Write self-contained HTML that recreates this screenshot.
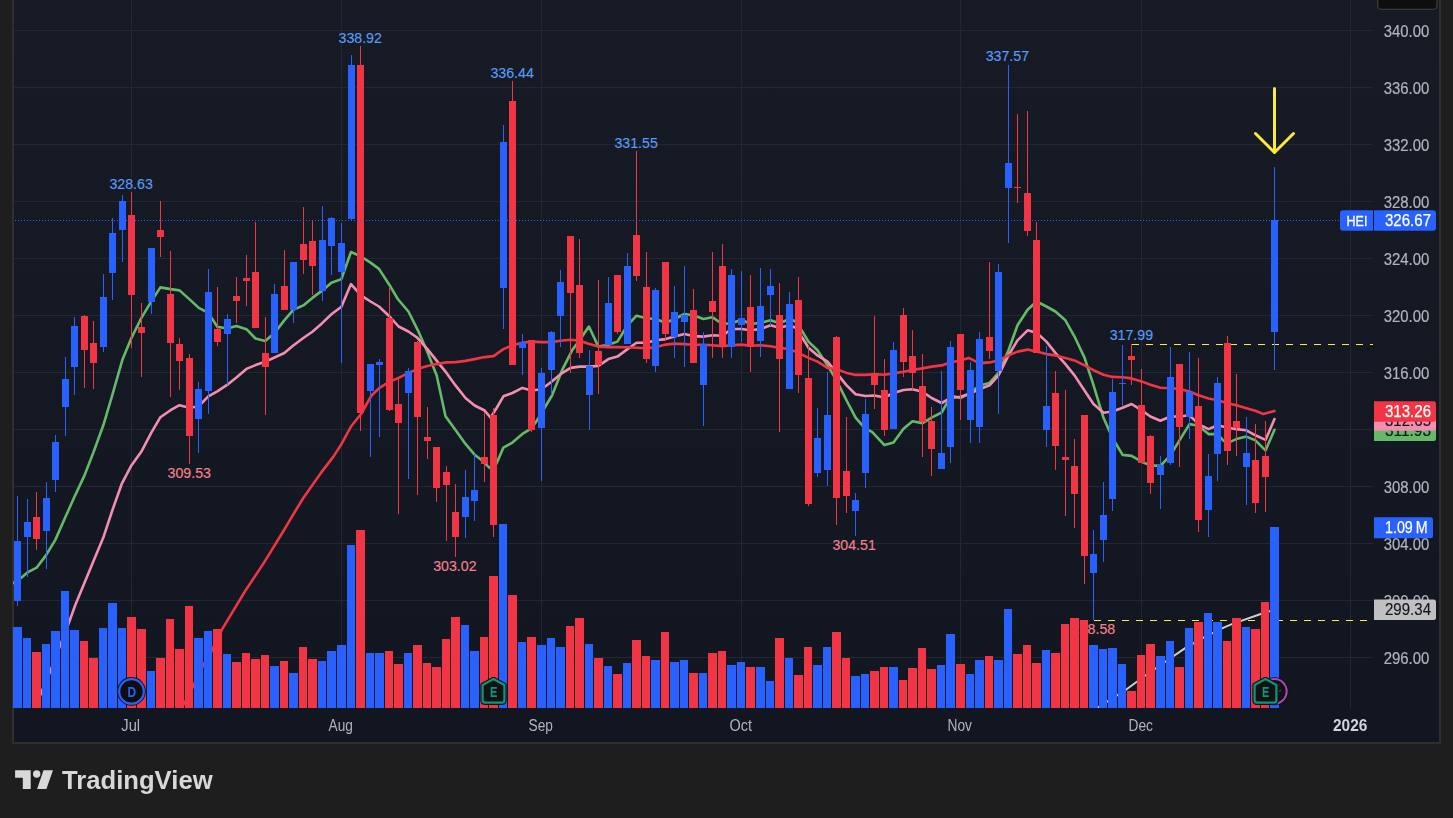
<!DOCTYPE html><html><head><meta charset="utf-8"><title>HEI chart</title><style>html,body{margin:0;padding:0;background:#1e1e1e;}body{width:1453px;height:818px;overflow:hidden;position:relative;font-family:"Liberation Sans",sans-serif;}</style></head><body><svg width="1453" height="818" viewBox="0 0 1453 818" style="position:absolute;left:0;top:0">
<rect x="0" y="0" width="1453" height="818" fill="#1e1e1e"/>
<g opacity="0.9999">
<defs><clipPath id="cp"><rect x="13" y="0" width="1360" height="708"/></clipPath><linearGradient id="bgg" gradientUnits="userSpaceOnUse" x1="0" y1="-30" x2="0" y2="742"><stop offset="0" stop-color="#181c27"/><stop offset="1" stop-color="#131722"/></linearGradient></defs>
<rect x="12" y="-5" width="1429" height="749" fill="#303030"/>
<rect x="14" y="-5" width="1425" height="747" fill="url(#bgg)"/>
<g fill="#242835" shape-rendering="crispEdges"><rect x="14" y="30" width="1359" height="1"/><rect x="14" y="87" width="1359" height="1"/><rect x="14" y="144" width="1359" height="1"/><rect x="14" y="201" width="1359" height="1"/><rect x="14" y="258" width="1359" height="1"/><rect x="14" y="315" width="1359" height="1"/><rect x="14" y="372" width="1359" height="1"/><rect x="14" y="429" width="1359" height="1"/><rect x="14" y="486" width="1359" height="1"/><rect x="14" y="543" width="1359" height="1"/><rect x="14" y="600" width="1359" height="1"/><rect x="14" y="657" width="1359" height="1"/><rect x="131" y="0" width="1" height="708"/><rect x="341" y="0" width="1" height="708"/><rect x="541" y="0" width="1" height="708"/><rect x="741" y="0" width="1" height="708"/><rect x="960" y="0" width="1" height="708"/><rect x="1141" y="0" width="1" height="708"/><rect x="1350" y="0" width="1" height="708"/></g>
<line x1="1131.5" y1="344.5" x2="1373" y2="344.5" stroke="#ffeb3b" stroke-width="1" stroke-dasharray="7 7" shape-rendering="crispEdges"/>
<line x1="1093.5" y1="620.5" x2="1373" y2="620.5" stroke="#ffeb3b" stroke-width="1" stroke-dasharray="7 7" shape-rendering="crispEdges"/>
<g clip-path="url(#cp)">
<polyline fill="none" stroke="#cfcfcf" stroke-width="2" stroke-linejoin="round" stroke-linecap="round" points="1097.7,707.6 1126.6,689.3 1145.4,675.5 1165.4,661.7 1185.5,647.9 1194.3,642.9 1203.0,637.9 1223.1,627.8 1231.9,624.1 1260.7,614.0 1274.5,609.8"/>
<polyline fill="none" stroke="#66bb6a" stroke-width="2.6" stroke-linejoin="round" stroke-linecap="round" points="13.0,583.2 21.3,577.7 27.1,572.7 36.6,567.7 46.1,555.1 55.2,540.1 65.2,517.5 74.5,496.7 84.5,475.4 93.3,452.8 103.3,425.3 112.3,395.2 122.3,360.1 131.4,338.0 141.4,317.9 151.2,301.6 160.4,287.4 170.5,289.1 179.5,290.4 189.3,299.1 198.8,307.9 208.3,312.9 217.3,326.7 227.4,328.5 236.4,326.0 246.4,329.2 255.5,338.5 265.2,341.0 274.5,333.0 284.3,320.4 293.3,309.9 303.3,305.4 312.4,297.9 322.4,290.4 331.4,282.8 341.4,279.1 351.0,252.0 361.0,256.5 370.5,262.6 379.0,268.9 389.6,285.2 397.8,299.0 408.4,311.5 417.9,330.3 426.7,350.3 436.7,375.4 445.5,416.3 455.5,430.1 465.5,443.9 474.6,454.7 481.8,460.2 489.3,467.7 493.6,469.0 496.9,462.7 503.4,447.6 512.4,442.6 522.4,433.9 531.5,428.3 537.0,420.5 552.0,395.5 562.0,370.4 572.1,350.3 579.6,340.3 588.9,326.5 598.4,346.6 608.4,344.8 617.4,341.6 627.5,325.3 636.5,315.7 646.5,318.3 655.6,319.0 665.6,322.8 674.6,319.0 684.4,314.0 693.4,315.2 703.4,319.0 712.5,317.3 722.5,324.0 731.5,323.3 741.5,319.8 750.6,324.0 760.6,322.8 770.6,320.3 779.4,323.3 789.4,319.0 795.7,321.5 803.2,332.8 808.5,341.6 817.5,350.3 827.5,365.4 836.5,380.4 846.6,400.5 855.6,417.6 865.4,428.8 872.1,431.9 884.4,445.1 893.5,442.6 903.5,428.8 912.5,421.3 922.5,423.1 931.6,417.6 941.6,412.5 947.4,402.5 950.6,395.5 960.4,398.0 970.4,393.0 979.4,385.4 989.5,382.9 998.5,372.9 1008.5,350.3 1017.5,325.3 1027.6,309.7 1036.6,301.5 1046.4,306.5 1055.4,311.5 1065.4,320.3 1074.4,336.3 1084.5,357.6 1093.5,385.2 1103.5,417.8 1112.5,437.9 1122.6,454.9 1131.6,455.9 1141.6,461.7 1150.4,465.4 1160.4,465.9 1170.4,455.4 1179.5,440.4 1189.5,424.1 1198.5,425.8 1208.5,434.1 1217.6,434.1 1223.1,440.4 1227.6,442.9 1236.4,439.1 1246.4,436.6 1255.4,440.4 1265.5,450.4 1274.5,429.8"/>
<polyline fill="none" stroke="#f48fb1" stroke-width="2.6" stroke-linejoin="round" stroke-linecap="round" points="40.1,695.5 50.1,671.7 60.2,645.4 68.9,622.8 75.2,605.3 84.5,582.7 93.3,561.4 103.3,537.6 112.3,510.5 121.6,484.2 131.4,465.4 141.4,451.6 151.2,432.8 160.4,417.2 170.5,410.2 179.5,405.2 189.3,407.7 198.5,406.5 208.3,396.4 217.3,391.4 227.4,384.7 236.4,377.6 246.4,368.9 255.5,365.1 265.2,361.8 274.5,357.5 284.3,353.0 293.3,345.5 303.3,338.0 312.4,331.7 322.4,322.9 331.4,314.2 341.4,306.7 351.0,284.1 361.0,295.4 370.5,301.5 379.0,306.5 389.6,316.5 398.6,326.5 408.4,331.5 417.4,337.8 427.4,349.1 436.4,360.4 446.5,372.9 455.5,385.4 465.5,398.0 474.6,405.5 484.6,410.5 490.6,417.6 496.9,407.5 503.4,396.3 512.4,393.0 522.4,387.9 531.5,390.5 541.5,389.2 551.5,381.7 560.5,374.2 570.6,367.9 579.6,366.6 589.4,366.6 598.4,365.9 608.4,359.1 617.4,356.6 627.5,349.1 636.5,342.8 646.5,342.8 655.6,340.3 665.6,339.1 674.6,336.6 684.4,334.0 693.4,336.1 703.4,336.6 712.5,335.3 722.5,335.8 731.5,329.0 741.5,329.0 750.6,330.3 760.6,329.0 770.6,325.3 779.4,327.8 789.4,325.3 795.7,327.8 803.2,339.1 808.5,347.8 817.5,355.4 827.5,361.6 836.5,372.9 846.6,385.4 855.6,394.2 865.4,396.0 874.4,395.5 884.4,397.5 893.5,393.0 903.5,390.0 912.5,389.2 922.5,391.7 931.6,398.0 941.6,403.0 950.6,398.0 960.4,396.7 970.4,393.5 979.4,389.2 989.5,385.4 998.5,375.4 1008.5,355.4 1017.5,340.3 1027.6,330.3 1036.6,332.8 1046.4,341.6 1055.4,352.9 1065.4,364.1 1074.5,375.4 1084.5,390.5 1093.5,404.0 1103.5,412.8 1112.5,411.5 1122.6,407.8 1131.6,404.0 1141.6,410.3 1150.4,416.5 1160.4,420.8 1170.4,416.5 1179.5,416.5 1189.5,415.3 1198.5,424.1 1208.5,429.1 1217.6,425.3 1227.6,427.8 1236.4,429.1 1246.4,430.3 1255.4,435.3 1265.5,439.9 1274.5,419.0"/>
<polyline fill="none" stroke="#f23645" stroke-width="2.6" stroke-linejoin="round" stroke-linecap="round" points="181.7,707.6 184.3,703.0 193.0,686.7 203.1,665.4 212.6,649.1 221.9,629.6 245.7,590.2 263.2,563.9 283.3,531.3 293.3,514.3 303.3,498.0 320.9,472.9 333.4,456.6 341.4,444.1 351.0,426.5 361.0,414.0 371.5,395.5 379.5,387.9 389.6,381.7 398.6,377.9 408.4,372.9 417.4,369.1 427.4,366.1 436.4,364.1 446.5,362.4 455.5,362.1 465.5,360.9 474.6,359.1 484.6,357.1 493.6,356.1 503.4,349.1 512.4,345.3 522.4,342.8 531.5,341.6 541.5,342.1 551.5,342.1 560.5,340.8 570.6,339.8 579.6,340.8 589.4,344.1 598.4,346.6 608.4,347.1 617.4,347.1 627.5,347.3 636.5,347.8 646.5,348.3 655.6,347.3 665.6,344.6 674.6,343.6 684.4,344.1 693.4,344.8 703.4,344.8 712.5,345.3 722.5,346.1 731.5,345.3 741.5,344.6 750.6,345.8 760.6,345.3 770.6,346.3 779.4,347.8 789.4,349.1 798.4,352.9 808.5,357.9 817.5,361.6 827.5,367.9 836.5,369.1 846.6,372.9 855.6,374.9 865.4,374.9 874.4,374.2 884.4,374.7 893.5,373.4 903.5,371.7 912.5,369.9 922.5,368.4 931.6,366.6 941.6,365.4 950.6,362.4 960.4,360.4 968.7,357.9 976.2,361.6 983.7,362.9 989.5,362.4 998.5,360.4 1008.5,355.4 1017.5,351.6 1027.6,349.6 1036.6,351.6 1046.4,354.1 1055.4,355.4 1065.4,357.9 1074.5,360.4 1084.5,365.4 1093.5,370.2 1103.5,374.7 1112.5,376.9 1122.6,377.2 1131.6,378.4 1141.6,381.4 1150.4,384.7 1160.4,387.7 1170.4,388.2 1179.5,389.0 1189.5,391.5 1198.5,395.2 1208.5,398.5 1217.6,400.2 1227.6,403.3 1236.4,405.3 1246.4,408.3 1255.4,410.8 1263.2,414.0 1274.5,411.0"/>
</g>
<g font-family="Liberation Sans, sans-serif">
<text x="131.1" y="189" fill="#5b9cf6" font-size="15.3" text-anchor="middle" stroke="#5b9cf6" stroke-width="0.15" textLength="43.4" lengthAdjust="spacingAndGlyphs">328.63</text>
<text x="360.2" y="43.2" fill="#5b9cf6" font-size="15.3" text-anchor="middle" stroke="#5b9cf6" stroke-width="0.15" textLength="43.4" lengthAdjust="spacingAndGlyphs">338.92</text>
<text x="512.1" y="77.9" fill="#5b9cf6" font-size="15.3" text-anchor="middle" stroke="#5b9cf6" stroke-width="0.15" textLength="43.4" lengthAdjust="spacingAndGlyphs">336.44</text>
<text x="636.1" y="147.8" fill="#5b9cf6" font-size="15.3" text-anchor="middle" stroke="#5b9cf6" stroke-width="0.15" textLength="43.4" lengthAdjust="spacingAndGlyphs">331.55</text>
<text x="1007.4" y="61.3" fill="#5b9cf6" font-size="15.3" text-anchor="middle" stroke="#5b9cf6" stroke-width="0.15" textLength="43.4" lengthAdjust="spacingAndGlyphs">337.57</text>
<text x="1131.4" y="340.2" fill="#5b9cf6" font-size="15.3" text-anchor="middle" stroke="#5b9cf6" stroke-width="0.15" textLength="43.4" lengthAdjust="spacingAndGlyphs">317.99</text>
<text x="189.3" y="478" fill="#f4838b" font-size="15.3" text-anchor="middle" stroke="#f4838b" stroke-width="0.15" textLength="43.4" lengthAdjust="spacingAndGlyphs">309.53</text>
<text x="454.9" y="571.2" fill="#f4838b" font-size="15.3" text-anchor="middle" stroke="#f4838b" stroke-width="0.15" textLength="43.4" lengthAdjust="spacingAndGlyphs">303.02</text>
<text x="854.1" y="550" fill="#f4838b" font-size="15.3" text-anchor="middle" stroke="#f4838b" stroke-width="0.15" textLength="43.4" lengthAdjust="spacingAndGlyphs">304.51</text>
<text x="1093.5" y="634.1" fill="#f4838b" font-size="15.3" text-anchor="middle" stroke="#f4838b" stroke-width="0.15" textLength="43.4" lengthAdjust="spacingAndGlyphs">298.58</text>
</g>
<g clip-path="url(#cp)">
<g shape-rendering="crispEdges"><rect x="13" y="627" width="9" height="81" fill="#2962ff"/><rect x="23" y="638" width="8" height="70" fill="#2962ff"/><rect x="32" y="652" width="9" height="56" fill="#f23645"/><rect x="42" y="644" width="8" height="64" fill="#2962ff"/><rect x="51" y="631" width="9" height="77" fill="#2962ff"/><rect x="61" y="591" width="8" height="117" fill="#2962ff"/><rect x="70" y="630" width="9" height="78" fill="#2962ff"/><rect x="80" y="641" width="8" height="67" fill="#f23645"/><rect x="89" y="658" width="9" height="50" fill="#f23645"/><rect x="99" y="628" width="8" height="80" fill="#2962ff"/><rect x="108" y="603" width="9" height="105" fill="#2962ff"/><rect x="118" y="628" width="8" height="80" fill="#2962ff"/><rect x="127" y="617" width="9" height="91" fill="#f23645"/><rect x="137" y="629" width="9" height="79" fill="#f23645"/><rect x="147" y="671" width="8" height="37" fill="#2962ff"/><rect x="156" y="658" width="9" height="50" fill="#f23645"/><rect x="166" y="619" width="8" height="89" fill="#f23645"/><rect x="175" y="649" width="9" height="59" fill="#f23645"/><rect x="185" y="606" width="8" height="102" fill="#f23645"/><rect x="194" y="638" width="9" height="70" fill="#2962ff"/><rect x="204" y="631" width="8" height="77" fill="#2962ff"/><rect x="213" y="629" width="9" height="79" fill="#f23645"/><rect x="223" y="654" width="8" height="54" fill="#2962ff"/><rect x="232" y="662" width="9" height="46" fill="#f23645"/><rect x="242" y="653" width="8" height="55" fill="#f23645"/><rect x="251" y="659" width="9" height="49" fill="#f23645"/><rect x="261" y="655" width="8" height="53" fill="#f23645"/><rect x="270" y="666" width="9" height="42" fill="#2962ff"/><rect x="280" y="661" width="8" height="47" fill="#f23645"/><rect x="289" y="673" width="9" height="35" fill="#2962ff"/><rect x="299" y="647" width="8" height="61" fill="#f23645"/><rect x="308" y="659" width="9" height="49" fill="#f23645"/><rect x="318" y="661" width="8" height="47" fill="#2962ff"/><rect x="327" y="651" width="9" height="57" fill="#2962ff"/><rect x="337" y="645" width="9" height="63" fill="#2962ff"/><rect x="347" y="545" width="8" height="163" fill="#2962ff"/><rect x="356" y="530" width="9" height="178" fill="#f23645"/><rect x="366" y="653" width="8" height="55" fill="#2962ff"/><rect x="375" y="653" width="9" height="55" fill="#2962ff"/><rect x="385" y="651" width="8" height="57" fill="#f23645"/><rect x="394" y="664" width="9" height="44" fill="#f23645"/><rect x="404" y="653" width="8" height="55" fill="#2962ff"/><rect x="413" y="645" width="9" height="63" fill="#f23645"/><rect x="423" y="663" width="8" height="45" fill="#f23645"/><rect x="432" y="667" width="9" height="41" fill="#f23645"/><rect x="442" y="639" width="8" height="69" fill="#f23645"/><rect x="451" y="617" width="9" height="91" fill="#f23645"/><rect x="461" y="625" width="8" height="83" fill="#2962ff"/><rect x="470" y="651" width="9" height="57" fill="#2962ff"/><rect x="480" y="637" width="8" height="71" fill="#f23645"/><rect x="489" y="576" width="9" height="132" fill="#f23645"/><rect x="499" y="524" width="8" height="184" fill="#2962ff"/><rect x="508" y="595" width="9" height="113" fill="#f23645"/><rect x="518" y="642" width="8" height="66" fill="#2962ff"/><rect x="527" y="637" width="9" height="71" fill="#f23645"/><rect x="537" y="645" width="9" height="63" fill="#2962ff"/><rect x="547" y="638" width="8" height="70" fill="#2962ff"/><rect x="556" y="647" width="9" height="61" fill="#2962ff"/><rect x="566" y="626" width="8" height="82" fill="#f23645"/><rect x="575" y="618" width="9" height="90" fill="#f23645"/><rect x="585" y="644" width="8" height="64" fill="#2962ff"/><rect x="594" y="658" width="9" height="50" fill="#f23645"/><rect x="604" y="666" width="8" height="42" fill="#2962ff"/><rect x="613" y="674" width="9" height="34" fill="#f23645"/><rect x="623" y="663" width="8" height="45" fill="#2962ff"/><rect x="632" y="640" width="9" height="68" fill="#f23645"/><rect x="642" y="656" width="8" height="52" fill="#f23645"/><rect x="651" y="660" width="9" height="48" fill="#2962ff"/><rect x="661" y="632" width="8" height="76" fill="#f23645"/><rect x="670" y="662" width="9" height="46" fill="#2962ff"/><rect x="680" y="660" width="8" height="48" fill="#2962ff"/><rect x="689" y="673" width="9" height="35" fill="#f23645"/><rect x="699" y="673" width="8" height="35" fill="#2962ff"/><rect x="708" y="653" width="9" height="55" fill="#f23645"/><rect x="718" y="651" width="8" height="57" fill="#f23645"/><rect x="727" y="665" width="9" height="43" fill="#2962ff"/><rect x="737" y="662" width="8" height="46" fill="#2962ff"/><rect x="746" y="667" width="9" height="41" fill="#f23645"/><rect x="756" y="667" width="9" height="41" fill="#2962ff"/><rect x="766" y="681" width="8" height="27" fill="#2962ff"/><rect x="775" y="638" width="9" height="70" fill="#f23645"/><rect x="785" y="658" width="8" height="50" fill="#2962ff"/><rect x="794" y="675" width="9" height="33" fill="#f23645"/><rect x="804" y="647" width="8" height="61" fill="#f23645"/><rect x="813" y="665" width="9" height="43" fill="#2962ff"/><rect x="823" y="647" width="8" height="61" fill="#2962ff"/><rect x="832" y="632" width="9" height="76" fill="#f23645"/><rect x="842" y="658" width="8" height="50" fill="#f23645"/><rect x="851" y="676" width="9" height="32" fill="#2962ff"/><rect x="861" y="674" width="8" height="34" fill="#2962ff"/><rect x="870" y="671" width="9" height="37" fill="#f23645"/><rect x="880" y="667" width="8" height="41" fill="#f23645"/><rect x="889" y="667" width="9" height="41" fill="#2962ff"/><rect x="899" y="680" width="8" height="28" fill="#f23645"/><rect x="908" y="668" width="9" height="40" fill="#f23645"/><rect x="918" y="648" width="8" height="60" fill="#f23645"/><rect x="927" y="669" width="9" height="39" fill="#f23645"/><rect x="937" y="665" width="8" height="43" fill="#2962ff"/><rect x="946" y="634" width="9" height="74" fill="#2962ff"/><rect x="956" y="664" width="9" height="44" fill="#f23645"/><rect x="966" y="674" width="8" height="34" fill="#2962ff"/><rect x="975" y="660" width="9" height="48" fill="#2962ff"/><rect x="985" y="656" width="8" height="52" fill="#f23645"/><rect x="994" y="660" width="9" height="48" fill="#2962ff"/><rect x="1004" y="609" width="8" height="99" fill="#2962ff"/><rect x="1013" y="654" width="9" height="54" fill="#f23645"/><rect x="1023" y="645" width="8" height="63" fill="#f23645"/><rect x="1032" y="663" width="9" height="45" fill="#f23645"/><rect x="1042" y="650" width="8" height="58" fill="#2962ff"/><rect x="1051" y="653" width="9" height="55" fill="#f23645"/><rect x="1061" y="624" width="8" height="84" fill="#f23645"/><rect x="1070" y="618" width="9" height="90" fill="#f23645"/><rect x="1080" y="620" width="8" height="88" fill="#f23645"/><rect x="1089" y="645" width="9" height="63" fill="#2962ff"/><rect x="1099" y="649" width="8" height="59" fill="#2962ff"/><rect x="1108" y="648" width="9" height="60" fill="#2962ff"/><rect x="1118" y="664" width="8" height="44" fill="#2962ff"/><rect x="1127" y="691" width="9" height="17" fill="#f23645"/><rect x="1137" y="655" width="8" height="53" fill="#f23645"/><rect x="1146" y="644" width="9" height="64" fill="#f23645"/><rect x="1156" y="656" width="9" height="52" fill="#2962ff"/><rect x="1166" y="641" width="8" height="67" fill="#2962ff"/><rect x="1175" y="667" width="9" height="41" fill="#f23645"/><rect x="1185" y="628" width="8" height="80" fill="#2962ff"/><rect x="1194" y="622" width="9" height="86" fill="#f23645"/><rect x="1204" y="613" width="8" height="95" fill="#2962ff"/><rect x="1213" y="622" width="9" height="86" fill="#2962ff"/><rect x="1223" y="641" width="8" height="67" fill="#f23645"/><rect x="1232" y="618" width="9" height="90" fill="#f23645"/><rect x="1242" y="627" width="8" height="81" fill="#2962ff"/><rect x="1251" y="629" width="9" height="79" fill="#f23645"/><rect x="1261" y="602" width="8" height="106" fill="#f23645"/><rect x="1270" y="527" width="9" height="181" fill="#2962ff"/></g>
<g shape-rendering="crispEdges"><rect x="17" y="496" width="1" height="110" fill="#2962ff"/><rect x="14" y="541" width="7" height="60" fill="#2962ff"/><rect x="27" y="499" width="1" height="78" fill="#2962ff"/><rect x="24" y="522" width="7" height="15" fill="#2962ff"/><rect x="36" y="492" width="1" height="58" fill="#f23645"/><rect x="33" y="517" width="7" height="22" fill="#f23645"/><rect x="46" y="482" width="1" height="87" fill="#2962ff"/><rect x="43" y="498" width="7" height="33" fill="#2962ff"/><rect x="55" y="435" width="1" height="57" fill="#2962ff"/><rect x="52" y="442" width="7" height="38" fill="#2962ff"/><rect x="65" y="357" width="1" height="79" fill="#2962ff"/><rect x="62" y="379" width="7" height="28" fill="#2962ff"/><rect x="74" y="317" width="1" height="78" fill="#2962ff"/><rect x="71" y="326" width="7" height="41" fill="#2962ff"/><rect x="84" y="315" width="1" height="73" fill="#f23645"/><rect x="81" y="316" width="7" height="34" fill="#f23645"/><rect x="93" y="321" width="1" height="68" fill="#f23645"/><rect x="90" y="343" width="7" height="20" fill="#f23645"/><rect x="103" y="274" width="1" height="78" fill="#2962ff"/><rect x="100" y="297" width="7" height="50" fill="#2962ff"/><rect x="112" y="218" width="1" height="82" fill="#2962ff"/><rect x="109" y="233" width="7" height="40" fill="#2962ff"/><rect x="122" y="195" width="1" height="67" fill="#2962ff"/><rect x="119" y="201" width="7" height="29" fill="#2962ff"/><rect x="131" y="192" width="1" height="156" fill="#f23645"/><rect x="128" y="215" width="7" height="80" fill="#f23645"/><rect x="141" y="303" width="1" height="74" fill="#f23645"/><rect x="138" y="327" width="7" height="6" fill="#f23645"/><rect x="151" y="248" width="1" height="66" fill="#2962ff"/><rect x="148" y="248" width="7" height="54" fill="#2962ff"/><rect x="160" y="201" width="1" height="56" fill="#f23645"/><rect x="157" y="230" width="7" height="7" fill="#f23645"/><rect x="170" y="251" width="1" height="146" fill="#f23645"/><rect x="167" y="294" width="7" height="49" fill="#f23645"/><rect x="179" y="338" width="1" height="52" fill="#f23645"/><rect x="176" y="344" width="7" height="17" fill="#f23645"/><rect x="189" y="354" width="1" height="110" fill="#f23645"/><rect x="186" y="358" width="7" height="78" fill="#f23645"/><rect x="198" y="382" width="1" height="71" fill="#2962ff"/><rect x="195" y="389" width="7" height="30" fill="#2962ff"/><rect x="208" y="269" width="1" height="145" fill="#2962ff"/><rect x="205" y="292" width="7" height="99" fill="#2962ff"/><rect x="217" y="287" width="1" height="59" fill="#f23645"/><rect x="214" y="329" width="7" height="13" fill="#f23645"/><rect x="227" y="314" width="1" height="71" fill="#2962ff"/><rect x="224" y="319" width="7" height="15" fill="#2962ff"/><rect x="236" y="277" width="1" height="46" fill="#f23645"/><rect x="233" y="296" width="7" height="5" fill="#f23645"/><rect x="246" y="255" width="1" height="51" fill="#f23645"/><rect x="243" y="278" width="7" height="3" fill="#f23645"/><rect x="255" y="222" width="1" height="106" fill="#f23645"/><rect x="252" y="272" width="7" height="56" fill="#f23645"/><rect x="265" y="317" width="1" height="98" fill="#f23645"/><rect x="262" y="353" width="7" height="14" fill="#f23645"/><rect x="274" y="284" width="1" height="69" fill="#2962ff"/><rect x="271" y="294" width="7" height="59" fill="#2962ff"/><rect x="284" y="250" width="1" height="60" fill="#f23645"/><rect x="281" y="286" width="7" height="24" fill="#f23645"/><rect x="293" y="262" width="1" height="61" fill="#2962ff"/><rect x="290" y="262" width="7" height="48" fill="#2962ff"/><rect x="303" y="207" width="1" height="67" fill="#f23645"/><rect x="300" y="244" width="7" height="16" fill="#f23645"/><rect x="312" y="220" width="1" height="75" fill="#f23645"/><rect x="309" y="241" width="7" height="25" fill="#f23645"/><rect x="322" y="206" width="1" height="95" fill="#2962ff"/><rect x="319" y="240" width="7" height="51" fill="#2962ff"/><rect x="331" y="217" width="1" height="58" fill="#2962ff"/><rect x="328" y="218" width="7" height="28" fill="#2962ff"/><rect x="341" y="223" width="1" height="140" fill="#2962ff"/><rect x="338" y="243" width="7" height="29" fill="#2962ff"/><rect x="351" y="55" width="1" height="165" fill="#2962ff"/><rect x="348" y="65" width="7" height="154" fill="#2962ff"/><rect x="360" y="46" width="1" height="385" fill="#f23645"/><rect x="357" y="65" width="7" height="348" fill="#f23645"/><rect x="370" y="364" width="1" height="93" fill="#2962ff"/><rect x="367" y="364" width="7" height="27" fill="#2962ff"/><rect x="379" y="359" width="1" height="78" fill="#2962ff"/><rect x="376" y="362" width="7" height="3" fill="#2962ff"/><rect x="389" y="288" width="1" height="123" fill="#f23645"/><rect x="386" y="318" width="7" height="92" fill="#f23645"/><rect x="398" y="379" width="1" height="135" fill="#f23645"/><rect x="395" y="404" width="7" height="19" fill="#f23645"/><rect x="408" y="368" width="1" height="111" fill="#2962ff"/><rect x="405" y="371" width="7" height="22" fill="#2962ff"/><rect x="417" y="341" width="1" height="154" fill="#f23645"/><rect x="414" y="342" width="7" height="75" fill="#f23645"/><rect x="427" y="407" width="1" height="52" fill="#f23645"/><rect x="424" y="437" width="7" height="4" fill="#f23645"/><rect x="436" y="447" width="1" height="55" fill="#f23645"/><rect x="433" y="447" width="7" height="41" fill="#f23645"/><rect x="446" y="466" width="1" height="75" fill="#f23645"/><rect x="443" y="472" width="7" height="13" fill="#f23645"/><rect x="455" y="484" width="1" height="73" fill="#f23645"/><rect x="452" y="512" width="7" height="25" fill="#f23645"/><rect x="465" y="470" width="1" height="68" fill="#2962ff"/><rect x="462" y="497" width="7" height="20" fill="#2962ff"/><rect x="474" y="454" width="1" height="67" fill="#2962ff"/><rect x="471" y="490" width="7" height="11" fill="#2962ff"/><rect x="484" y="412" width="1" height="70" fill="#f23645"/><rect x="481" y="457" width="7" height="7" fill="#f23645"/><rect x="493" y="408" width="1" height="129" fill="#f23645"/><rect x="490" y="415" width="7" height="110" fill="#f23645"/><rect x="503" y="125" width="1" height="204" fill="#2962ff"/><rect x="500" y="142" width="7" height="146" fill="#2962ff"/><rect x="512" y="81" width="1" height="284" fill="#f23645"/><rect x="509" y="101" width="7" height="264" fill="#f23645"/><rect x="522" y="334" width="1" height="41" fill="#2962ff"/><rect x="519" y="342" width="7" height="6" fill="#2962ff"/><rect x="531" y="340" width="1" height="92" fill="#f23645"/><rect x="528" y="340" width="7" height="90" fill="#f23645"/><rect x="541" y="368" width="1" height="113" fill="#2962ff"/><rect x="538" y="373" width="7" height="55" fill="#2962ff"/><rect x="551" y="331" width="1" height="64" fill="#2962ff"/><rect x="548" y="332" width="7" height="38" fill="#2962ff"/><rect x="560" y="270" width="1" height="77" fill="#2962ff"/><rect x="557" y="282" width="7" height="34" fill="#2962ff"/><rect x="570" y="236" width="1" height="137" fill="#f23645"/><rect x="567" y="236" width="7" height="57" fill="#f23645"/><rect x="579" y="239" width="1" height="119" fill="#f23645"/><rect x="576" y="285" width="7" height="68" fill="#f23645"/><rect x="589" y="350" width="1" height="80" fill="#2962ff"/><rect x="586" y="366" width="7" height="29" fill="#2962ff"/><rect x="598" y="280" width="1" height="114" fill="#f23645"/><rect x="595" y="351" width="7" height="14" fill="#f23645"/><rect x="608" y="277" width="1" height="68" fill="#2962ff"/><rect x="605" y="303" width="7" height="42" fill="#2962ff"/><rect x="617" y="275" width="1" height="59" fill="#f23645"/><rect x="614" y="275" width="7" height="57" fill="#f23645"/><rect x="627" y="253" width="1" height="91" fill="#2962ff"/><rect x="624" y="266" width="7" height="78" fill="#2962ff"/><rect x="636" y="151" width="1" height="130" fill="#f23645"/><rect x="633" y="235" width="7" height="41" fill="#f23645"/><rect x="646" y="252" width="1" height="111" fill="#f23645"/><rect x="643" y="287" width="7" height="72" fill="#f23645"/><rect x="655" y="288" width="1" height="84" fill="#2962ff"/><rect x="652" y="290" width="7" height="76" fill="#2962ff"/><rect x="665" y="262" width="1" height="79" fill="#f23645"/><rect x="662" y="262" width="7" height="72" fill="#f23645"/><rect x="674" y="286" width="1" height="72" fill="#2962ff"/><rect x="671" y="312" width="7" height="25" fill="#2962ff"/><rect x="684" y="266" width="1" height="101" fill="#2962ff"/><rect x="681" y="315" width="7" height="7" fill="#2962ff"/><rect x="693" y="289" width="1" height="74" fill="#f23645"/><rect x="690" y="310" width="7" height="53" fill="#f23645"/><rect x="703" y="332" width="1" height="94" fill="#2962ff"/><rect x="700" y="344" width="7" height="41" fill="#2962ff"/><rect x="712" y="252" width="1" height="106" fill="#f23645"/><rect x="709" y="301" width="7" height="11" fill="#f23645"/><rect x="722" y="244" width="1" height="114" fill="#f23645"/><rect x="719" y="266" width="7" height="80" fill="#f23645"/><rect x="731" y="269" width="1" height="89" fill="#2962ff"/><rect x="728" y="275" width="7" height="72" fill="#2962ff"/><rect x="741" y="271" width="1" height="71" fill="#2962ff"/><rect x="738" y="318" width="7" height="7" fill="#2962ff"/><rect x="750" y="275" width="1" height="97" fill="#f23645"/><rect x="747" y="307" width="7" height="40" fill="#f23645"/><rect x="760" y="268" width="1" height="89" fill="#2962ff"/><rect x="757" y="306" width="7" height="35" fill="#2962ff"/><rect x="770" y="269" width="1" height="57" fill="#2962ff"/><rect x="767" y="286" width="7" height="9" fill="#2962ff"/><rect x="779" y="283" width="1" height="149" fill="#f23645"/><rect x="776" y="315" width="7" height="44" fill="#f23645"/><rect x="789" y="292" width="1" height="97" fill="#2962ff"/><rect x="786" y="304" width="7" height="85" fill="#2962ff"/><rect x="798" y="277" width="1" height="116" fill="#f23645"/><rect x="795" y="300" width="7" height="75" fill="#f23645"/><rect x="808" y="346" width="1" height="160" fill="#f23645"/><rect x="805" y="378" width="7" height="126" fill="#f23645"/><rect x="817" y="408" width="1" height="69" fill="#2962ff"/><rect x="814" y="438" width="7" height="35" fill="#2962ff"/><rect x="827" y="372" width="1" height="114" fill="#2962ff"/><rect x="824" y="415" width="7" height="55" fill="#2962ff"/><rect x="836" y="336" width="1" height="189" fill="#f23645"/><rect x="833" y="337" width="7" height="161" fill="#f23645"/><rect x="846" y="417" width="1" height="96" fill="#f23645"/><rect x="843" y="471" width="7" height="25" fill="#f23645"/><rect x="855" y="493" width="1" height="43" fill="#2962ff"/><rect x="852" y="500" width="7" height="11" fill="#2962ff"/><rect x="865" y="399" width="1" height="89" fill="#2962ff"/><rect x="862" y="414" width="7" height="59" fill="#2962ff"/><rect x="874" y="316" width="1" height="93" fill="#f23645"/><rect x="871" y="373" width="7" height="12" fill="#f23645"/><rect x="884" y="359" width="1" height="77" fill="#f23645"/><rect x="881" y="390" width="7" height="40" fill="#f23645"/><rect x="893" y="342" width="1" height="87" fill="#2962ff"/><rect x="890" y="350" width="7" height="79" fill="#2962ff"/><rect x="903" y="308" width="1" height="69" fill="#f23645"/><rect x="900" y="315" width="7" height="47" fill="#f23645"/><rect x="912" y="330" width="1" height="60" fill="#f23645"/><rect x="909" y="356" width="7" height="17" fill="#f23645"/><rect x="922" y="354" width="1" height="103" fill="#f23645"/><rect x="919" y="386" width="7" height="36" fill="#f23645"/><rect x="931" y="407" width="1" height="69" fill="#f23645"/><rect x="928" y="421" width="7" height="28" fill="#f23645"/><rect x="941" y="371" width="1" height="98" fill="#2962ff"/><rect x="938" y="453" width="7" height="16" fill="#2962ff"/><rect x="950" y="341" width="1" height="122" fill="#2962ff"/><rect x="947" y="347" width="7" height="100" fill="#2962ff"/><rect x="960" y="334" width="1" height="86" fill="#f23645"/><rect x="957" y="334" width="7" height="56" fill="#f23645"/><rect x="970" y="362" width="1" height="81" fill="#2962ff"/><rect x="967" y="370" width="7" height="50" fill="#2962ff"/><rect x="979" y="332" width="1" height="111" fill="#2962ff"/><rect x="976" y="339" width="7" height="88" fill="#2962ff"/><rect x="989" y="262" width="1" height="97" fill="#f23645"/><rect x="986" y="337" width="7" height="14" fill="#f23645"/><rect x="998" y="264" width="1" height="150" fill="#2962ff"/><rect x="995" y="272" width="7" height="99" fill="#2962ff"/><rect x="1008" y="65" width="1" height="178" fill="#2962ff"/><rect x="1005" y="163" width="7" height="25" fill="#2962ff"/><rect x="1017" y="114" width="1" height="89" fill="#f23645"/><rect x="1014" y="187" width="7" height="1" fill="#f23645"/><rect x="1027" y="111" width="1" height="125" fill="#f23645"/><rect x="1024" y="193" width="7" height="38" fill="#f23645"/><rect x="1036" y="222" width="1" height="131" fill="#f23645"/><rect x="1033" y="240" width="7" height="113" fill="#f23645"/><rect x="1046" y="346" width="1" height="101" fill="#2962ff"/><rect x="1043" y="406" width="7" height="24" fill="#2962ff"/><rect x="1055" y="371" width="1" height="99" fill="#f23645"/><rect x="1052" y="393" width="7" height="53" fill="#f23645"/><rect x="1065" y="390" width="1" height="126" fill="#f23645"/><rect x="1062" y="457" width="7" height="3" fill="#f23645"/><rect x="1074" y="439" width="1" height="89" fill="#f23645"/><rect x="1071" y="466" width="7" height="28" fill="#f23645"/><rect x="1084" y="415" width="1" height="169" fill="#f23645"/><rect x="1081" y="415" width="7" height="141" fill="#f23645"/><rect x="1093" y="530" width="1" height="90" fill="#2962ff"/><rect x="1090" y="554" width="7" height="19" fill="#2962ff"/><rect x="1103" y="482" width="1" height="80" fill="#2962ff"/><rect x="1100" y="515" width="7" height="25" fill="#2962ff"/><rect x="1112" y="379" width="1" height="132" fill="#2962ff"/><rect x="1109" y="392" width="7" height="107" fill="#2962ff"/><rect x="1122" y="345" width="1" height="61" fill="#2962ff"/><rect x="1119" y="383" width="7" height="1" fill="#2962ff"/><rect x="1131" y="344" width="1" height="41" fill="#f23645"/><rect x="1128" y="356" width="7" height="4" fill="#f23645"/><rect x="1141" y="369" width="1" height="94" fill="#f23645"/><rect x="1138" y="405" width="7" height="58" fill="#f23645"/><rect x="1150" y="435" width="1" height="59" fill="#f23645"/><rect x="1147" y="436" width="7" height="47" fill="#f23645"/><rect x="1160" y="456" width="1" height="53" fill="#2962ff"/><rect x="1157" y="465" width="7" height="10" fill="#2962ff"/><rect x="1170" y="347" width="1" height="118" fill="#2962ff"/><rect x="1167" y="377" width="7" height="86" fill="#2962ff"/><rect x="1179" y="364" width="1" height="103" fill="#f23645"/><rect x="1176" y="364" width="7" height="63" fill="#f23645"/><rect x="1189" y="352" width="1" height="87" fill="#2962ff"/><rect x="1186" y="392" width="7" height="25" fill="#2962ff"/><rect x="1198" y="358" width="1" height="174" fill="#f23645"/><rect x="1195" y="406" width="7" height="114" fill="#f23645"/><rect x="1208" y="454" width="1" height="83" fill="#2962ff"/><rect x="1205" y="476" width="7" height="34" fill="#2962ff"/><rect x="1217" y="377" width="1" height="104" fill="#2962ff"/><rect x="1214" y="383" width="7" height="71" fill="#2962ff"/><rect x="1227" y="336" width="1" height="129" fill="#f23645"/><rect x="1224" y="343" width="7" height="108" fill="#f23645"/><rect x="1236" y="374" width="1" height="82" fill="#f23645"/><rect x="1233" y="421" width="7" height="7" fill="#f23645"/><rect x="1246" y="417" width="1" height="88" fill="#2962ff"/><rect x="1243" y="453" width="7" height="14" fill="#2962ff"/><rect x="1255" y="424" width="1" height="89" fill="#f23645"/><rect x="1252" y="460" width="7" height="43" fill="#f23645"/><rect x="1265" y="421" width="1" height="91" fill="#f23645"/><rect x="1262" y="456" width="7" height="21" fill="#f23645"/><rect x="1274" y="167" width="1" height="203" fill="#2962ff"/><rect x="1271" y="220" width="7" height="112" fill="#2962ff"/></g>
</g>
<line x1="15" y1="220.5" x2="1340" y2="220.5" stroke="#2962ff" stroke-width="1" stroke-dasharray="1 2" shape-rendering="crispEdges"/>
<g stroke="#ffeb3b" stroke-width="3" fill="none" stroke-linecap="round" stroke-linejoin="round"><line x1="1274.5" y1="88.5" x2="1274.5" y2="152"/><polyline points="1255.5,133.5 1274.5,152.5 1293.5,133.5"/></g>
<circle cx="131.5" cy="691.4" r="14.3" fill="#131313"/>
<circle cx="131.5" cy="691.4" r="12.3" fill="#0f0f0f" stroke="#2962ff" stroke-width="2.2"/>
<text x="131.7" y="696.9" font-family="Liberation Sans, sans-serif" font-weight="bold" font-size="15.2" fill="#2962ff" text-anchor="middle" textLength="8.6" lengthAdjust="spacingAndGlyphs">D</text>
<path d="M493.5,679 L504.4,685 V700.2 Q504.4,702.7 501.9,702.7 H485.1 Q482.6,702.7 482.6,700.2 V685 Z" fill="#131313" stroke="#131313" stroke-width="4.6" stroke-linejoin="round"/><path d="M493.5,679 L504.4,685 V700.2 Q504.4,702.7 501.9,702.7 H485.1 Q482.6,702.7 482.6,700.2 V685 Z" fill="#131313" stroke="#089981" stroke-width="2.2" stroke-linejoin="round"/><text x="493.6" y="697.1" font-family="Liberation Sans, sans-serif" font-weight="bold" font-size="15.2" fill="#089981" text-anchor="middle" textLength="7.4" lengthAdjust="spacingAndGlyphs">E</text>
<circle cx="1274.5" cy="691.3" r="14" fill="#131313"/><circle cx="1274.5" cy="691.3" r="12.2" fill="#131313" stroke="#ab47bc" stroke-width="2"/><path d="M1278.5,685.5 l0.8,-0.8 M1279.0,691.5 l2,-1.2" stroke="#8e3a9e" stroke-width="1" fill="none"/><path d="M1265.5,679 L1276.4,685 V700.2 Q1276.4,702.7 1273.9,702.7 H1257.1 Q1254.6,702.7 1254.6,700.2 V685 Z" fill="#131313" stroke="#131313" stroke-width="4.6" stroke-linejoin="round"/><path d="M1265.5,679 L1276.4,685 V700.2 Q1276.4,702.7 1273.9,702.7 H1257.1 Q1254.6,702.7 1254.6,700.2 V685 Z" fill="#131313" stroke="#089981" stroke-width="2.2" stroke-linejoin="round"/><text x="1265.6" y="697.1" font-family="Liberation Sans, sans-serif" font-weight="bold" font-size="15.2" fill="#089981" text-anchor="middle" textLength="7.4" lengthAdjust="spacingAndGlyphs">E</text>
<g font-family="Liberation Sans, sans-serif" font-size="15.6">
<text x="1383.7" y="36.7" fill="#b2b5be" stroke="#b2b5be" stroke-width="0.2" textLength="45.6" lengthAdjust="spacingAndGlyphs">340.00</text>
<text x="1383.7" y="93.7" fill="#b2b5be" stroke="#b2b5be" stroke-width="0.2" textLength="45.6" lengthAdjust="spacingAndGlyphs">336.00</text>
<text x="1383.7" y="150.7" fill="#b2b5be" stroke="#b2b5be" stroke-width="0.2" textLength="45.6" lengthAdjust="spacingAndGlyphs">332.00</text>
<text x="1383.7" y="207.7" fill="#b2b5be" stroke="#b2b5be" stroke-width="0.2" textLength="45.6" lengthAdjust="spacingAndGlyphs">328.00</text>
<text x="1383.7" y="264.7" fill="#b2b5be" stroke="#b2b5be" stroke-width="0.2" textLength="45.6" lengthAdjust="spacingAndGlyphs">324.00</text>
<text x="1383.7" y="321.7" fill="#b2b5be" stroke="#b2b5be" stroke-width="0.2" textLength="45.6" lengthAdjust="spacingAndGlyphs">320.00</text>
<text x="1383.7" y="378.7" fill="#b2b5be" stroke="#b2b5be" stroke-width="0.2" textLength="45.6" lengthAdjust="spacingAndGlyphs">316.00</text>
<text x="1383.7" y="435.7" fill="#b2b5be" stroke="#b2b5be" stroke-width="0.2" textLength="45.6" lengthAdjust="spacingAndGlyphs">312.00</text>
<text x="1383.7" y="492.7" fill="#b2b5be" stroke="#b2b5be" stroke-width="0.2" textLength="45.6" lengthAdjust="spacingAndGlyphs">308.00</text>
<text x="1383.7" y="549.7" fill="#b2b5be" stroke="#b2b5be" stroke-width="0.2" textLength="45.6" lengthAdjust="spacingAndGlyphs">304.00</text>
<text x="1383.7" y="606.7" fill="#b2b5be" stroke="#b2b5be" stroke-width="0.2" textLength="45.6" lengthAdjust="spacingAndGlyphs">300.00</text>
<text x="1383.7" y="663.7" fill="#b2b5be" stroke="#b2b5be" stroke-width="0.2" textLength="45.6" lengthAdjust="spacingAndGlyphs">296.00</text>
<path d="M1374,420.1 H1433.5 Q1436,420.1 1436,422.6 V438.6 Q1436,441.1 1433.5,441.1 H1374 Z" fill="#66bb6a"/><text x="1385" y="436.1" fill="#131722" stroke="#131722" stroke-width="0.15" textLength="46" lengthAdjust="spacingAndGlyphs">311.93</text>
<path d="M1374,409.8 H1433.5 Q1436,409.8 1436,412.3 V428.3 Q1436,430.8 1433.5,430.8 H1374 Z" fill="#f48fb1"/><text x="1385" y="425.8" fill="#131722" stroke="#131722" stroke-width="0.15" textLength="46" lengthAdjust="spacingAndGlyphs">312.65</text>
<path d="M1374,401.2 H1433.5 Q1436,401.2 1436,403.7 V419.2 Q1436,421.7 1433.5,421.7 H1374 Z" fill="#f23645"/><text x="1385" y="416.95" fill="#ffffff" stroke="#ffffff" stroke-width="0.25" textLength="46" lengthAdjust="spacingAndGlyphs">313.26</text>
<path d="M1374,599.5 H1433.5 Q1436,599.5 1436,602.0 V617.6 Q1436,620.1 1433.5,620.1 H1374 Z" fill="#c1c1c1"/><text x="1385" y="615.3" fill="#131722" stroke="#131722" stroke-width="0.15" textLength="46" lengthAdjust="spacingAndGlyphs">299.34</text>
<path d="M1374,517.2 H1430.5 Q1433,517.2 1433,519.7 V535.7 Q1433,538.2 1430.5,538.2 H1374 Z" fill="#2962ff"/><text x="1385" y="533.2" fill="#ffffff" stroke="#ffffff" stroke-width="0.25" textLength="42.6" lengthAdjust="spacingAndGlyphs">1.09&#8201;M</text>
<path d="M1374,210.2 H1433 Q1436,210.2 1436,213.2 V227.8 Q1436,230.8 1433,230.8 H1374 Z" fill="#2962ff"/>
<text x="1385" y="226" fill="#ffffff" stroke="#ffffff" stroke-width="0.25" textLength="46" lengthAdjust="spacingAndGlyphs">326.67</text>
<path d="M1373,210.2 H1343 Q1340,210.2 1340,213.2 V227.8 Q1340,230.8 1343,230.8 H1373 Z" fill="#2962ff"/>
<text x="1346.5" y="225.9" fill="#ffffff" stroke="#ffffff" stroke-width="0.3" font-size="14.6" textLength="20.9" lengthAdjust="spacingAndGlyphs">HEI</text>
</g>
<rect x="1377.7" y="-10" width="59.2" height="19.4" rx="4" fill="#0f0f0f" stroke="#3a3a3a" stroke-width="1.4"/>
<g font-family="Liberation Sans, sans-serif" font-size="15.6" fill="#b2b5be" text-anchor="middle">
<text x="130.7" y="730.8" textLength="18.8" lengthAdjust="spacingAndGlyphs">Jul</text>
<text x="340.7" y="730.8" textLength="24.4" lengthAdjust="spacingAndGlyphs">Aug</text>
<text x="540.7" y="730.8" textLength="24.4" lengthAdjust="spacingAndGlyphs">Sep</text>
<text x="740.7" y="730.8" textLength="22.5" lengthAdjust="spacingAndGlyphs">Oct</text>
<text x="959.7" y="730.8" textLength="24.5" lengthAdjust="spacingAndGlyphs">Nov</text>
<text x="1140.7" y="730.8" textLength="24.5" lengthAdjust="spacingAndGlyphs">Dec</text>
<text x="1350.2" y="730.8" font-weight="bold" fill="#d1d4dc" textLength="34.4" lengthAdjust="spacingAndGlyphs">2026</text>
</g>
<g fill="#d9d9d9">
<path d="M15.1,770.3 H30.7 V789.1 H22.8 V777.8 H15.1 Z"/>
<circle cx="36.7" cy="774" r="3.7"/>
<path d="M43.5,770.3 H53 L46.4,789.1 H37.1 Z"/>
<text x="62" y="789.2" font-family="Liberation Sans, sans-serif" font-weight="bold" font-size="25.8" textLength="150.6" lengthAdjust="spacingAndGlyphs">TradingView</text>
</g>
</g>
</svg></body></html>
